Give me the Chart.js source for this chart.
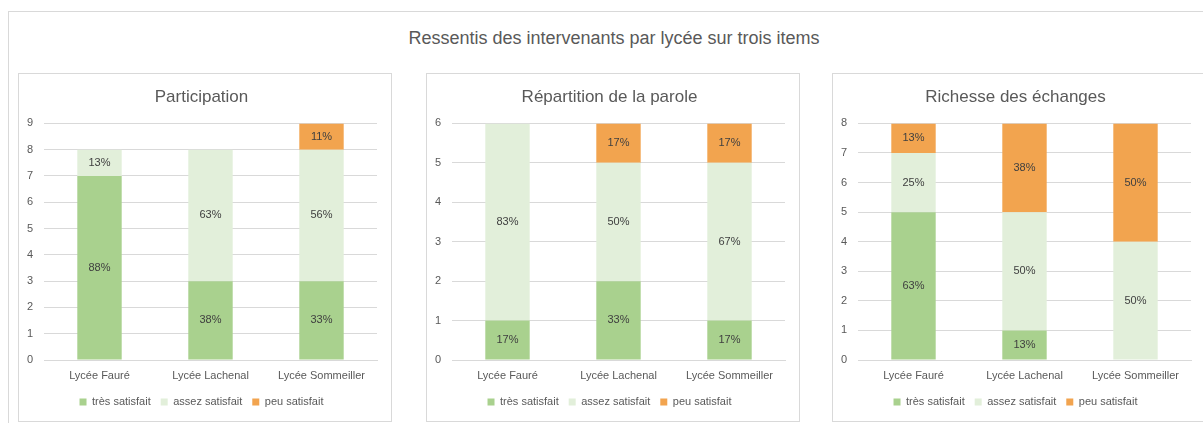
<!DOCTYPE html>
<html lang="fr">
<head>
    <meta charset="UTF-8">
    <title>Ressentis des intervenants par lycée sur trois items</title>
    <script src="https://cdn.jsdelivr.net/npm/chart.js@4.4.0/dist/chart.umd.min.js"></script>
    <style>
        body { margin: 0; width: 1203px; height: 423px; overflow: hidden; background: #fff; font-family: "Liberation Sans", sans-serif; position: relative; }
        #frame { position: absolute; left: 8px; top: 11px; width: 1300px; height: 500px; border: 1px solid #d9d9d9; }
        #mainTitle { position: absolute; left: 0; width: 1228px; top: 28px; text-align: center; font-size: 18px; color: #595959; }
        .panel { position: absolute; top: 73px; width: 374px; height: 349px; border: 1px solid #d9d9d9; box-sizing: border-box; }
        .panel canvas { display: block; }
    </style>
</head>
<body>
    <div id="frame"></div>
    <div id="mainTitle">Ressentis des intervenants par lycée sur trois items</div>
    <div class="panel" style="left:18px"><canvas id="c1" width="372" height="347"></canvas></div>
    <div class="panel" style="left:426px"><canvas id="c2" width="372" height="347"></canvas></div>
    <div class="panel" style="left:832px"><canvas id="c3" width="372" height="347"></canvas></div>

    <script>
        // categories and series
        const lycees = ['Lycée Fauré', 'Lycée Lachenal', 'Lycée Sommeiller'];
        const seriesNames = ['très satisfait', 'assez satisfait', 'peu satisfait'];
        const seriesColors = ['#a9d18e', '#e2efda', '#f2a44f'];

        // Participation
        const partTres = [7, 3, 3];
        const partAssez = [1, 5, 5];
        const partPeu = [0, 0, 1];

        // Répartition de la parole
        const repTres = [1, 2, 1];
        const repAssez = [5, 3, 4];
        const repPeu = [0, 1, 1];

        // Richesse des échanges
        const richTres = [5, 1, 0];
        const richAssez = [2, 4, 4];
        const richPeu = [1, 3, 4];

        const textColor = '#595959';
        const gridColor = '#d9d9d9';

        // percentage labels in the middle of each segment
        const percentLabels = {
            id: 'percentLabels',
            afterDatasetsDraw(chart) {
                const ctx = chart.ctx;
                const ds = chart.data.datasets;
                ctx.save();
                ctx.font = '11px "Liberation Sans", sans-serif';
                ctx.fillStyle = '#404040';
                ctx.textAlign = 'center';
                ctx.textBaseline = 'middle';
                ds.forEach((d, di) => {
                    const meta = chart.getDatasetMeta(di);
                    meta.data.forEach((bar, i) => {
                        const v = d.data[i];
                        if (!v) return;
                        const total = ds.reduce((s, x) => s + x.data[i], 0);
                        const pct = Math.round(v / total * 100) + '%';
                        ctx.fillText(pct, bar.x, (bar.y + bar.base) / 2);
                    });
                });
                ctx.restore();
            }
        };

        function makeChart(id, title, yMax, tres, assez, peu) {
            const series = [tres, assez, peu];
            new Chart(document.getElementById(id), {
                type: 'bar',
                data: {
                    labels: lycees,
                    datasets: series.map((values, k) => ({
                        label: seriesNames[k],
                        data: values,
                        backgroundColor: seriesColors[k],
                        categoryPercentage: 1,
                        barPercentage: 0.4
                    }))
                },
                options: {
                    responsive: false,
                    animation: false,
                    layout: { padding: { left: 7, right: 14, top: 0, bottom: 3.5 } },
                    plugins: {
                        title: {
                            display: true,
                            text: title,
                            color: textColor,
                            font: { family: '"Liberation Sans", sans-serif', size: 17, weight: 'normal' },
                            padding: { top: 13, bottom: 16 }
                        },
                        legend: {
                            position: 'bottom',
                            labels: {
                                color: textColor,
                                font: { family: '"Liberation Sans", sans-serif', size: 11 },
                                boxWidth: 7,
                                boxHeight: 7,
                                padding: 10
                            }
                        },
                        tooltip: { enabled: false }
                    },
                    scales: {
                        x: {
                            stacked: true,
                            grid: { display: false, drawTicks: false },
                            border: { color: gridColor },
                            ticks: {
                                color: textColor,
                                font: { family: '"Liberation Sans", sans-serif', size: 11 },
                                padding: 9,
                                maxRotation: 0
                            },
                            afterFit: s => { s.height = 26.5; }
                        },
                        y: {
                            stacked: true,
                            min: 0,
                            max: yMax,
                            grid: { color: gridColor, drawTicks: false },
                            border: { display: false },
                            ticks: {
                                stepSize: 1,
                                color: textColor,
                                font: { family: '"Liberation Sans", sans-serif', size: 11 },
                                padding: 11
                            },
                            afterFit: s => { s.width = 18; }
                        }
                    }
                },
                plugins: [percentLabels]
            });
        }

        makeChart('c1', 'Participation', 9, partTres, partAssez, partPeu);
        makeChart('c2', 'Répartition de la parole', 6, repTres, repAssez, repPeu);
        makeChart('c3', 'Richesse des échanges', 8, richTres, richAssez, richPeu);
    </script>
</body>
</html>
